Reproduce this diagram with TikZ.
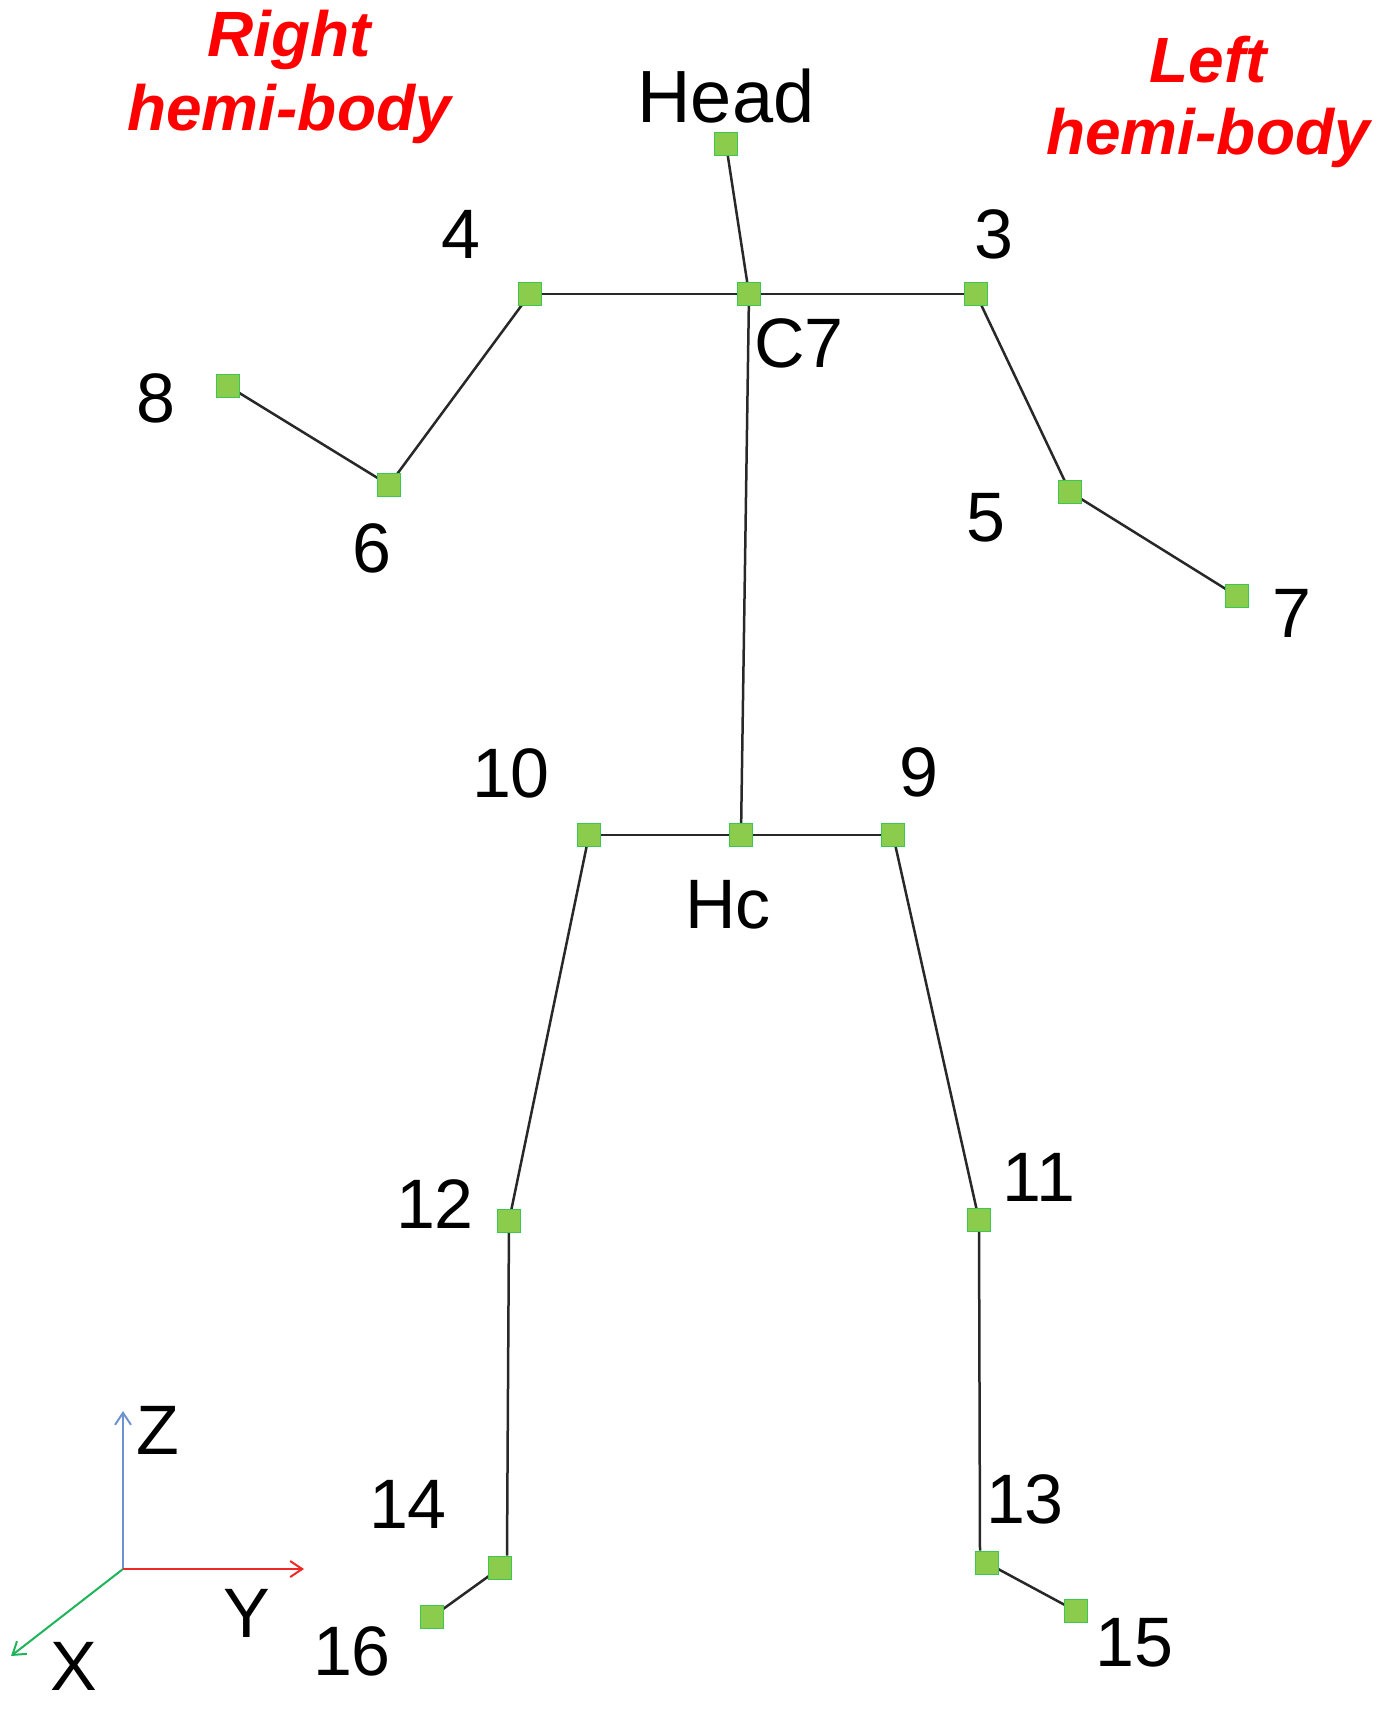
\documentclass[tikz,border=0pt]{standalone}
\usepackage{fontspec}
\setmainfont{Liberation Sans}
\usetikzlibrary{arrows.meta,backgrounds}
\definecolor{mfill}{RGB}{140,204,76}
\definecolor{mdraw}{RGB}{60,200,80}
\definecolor{axz}{RGB}{110,145,210}
\definecolor{axy}{RGB}{240,40,40}
\definecolor{axx}{RGB}{30,180,90}
\definecolor{hemired}{RGB}{255,0,0}
\definecolor{bonec}{RGB}{40,40,40}
\tikzset{
  joint/.style={draw=mdraw,fill=mfill,line width=1.8pt,minimum size=23pt,inner sep=0pt,shape=rectangle},
  bone/.style={line width=2.5pt,bonec},
  lbl/.style={inner sep=0pt,font=\fontsize{70}{80}\selectfont},
  hemi/.style={inner sep=0pt,align=center,text=hemired,font=\fontsize{64}{74}\selectfont\bfseries\itshape},
  axis/.style={line width=2pt,-{Straight Barb[length=12pt,width=16pt,line width=2pt]}}
}
\begin{document}
\begin{tikzpicture}[x=1pt,y=-1pt]
\useasboundingbox (0,0) rectangle (1393,1709);
% joints
\node[joint] (head) at (726,144) {};
\node[joint] (c7) at (749,294) {};
\node[joint] (j4) at (530,294) {};
\node[joint] (j3) at (976,294) {};
\node[joint] (j8) at (228,386) {};
\node[joint] (j6) at (389,485) {};
\node[joint] (j5) at (1070,492) {};
\node[joint] (j7) at (1237,596) {};
\node[joint] (hc) at (741,835) {};
\node[joint] (j10) at (589,835) {};
\node[joint] (j9) at (893,835) {};
\node[joint] (j12) at (509,1221) {};
\node[joint] (j11) at (979,1220) {};
\node[joint] (j14) at (500,1568) {};
\node[joint] (j16) at (432,1617) {};
\node[joint] (j13) at (987,1563) {};
\node[joint] (j15) at (1076,1611) {};
% bones
\begin{scope}[on background layer]
\fill[white] (0,0) rectangle (1393,1709);
\draw[bone] (head.center) -- (c7.center);
\draw[bone] (j4.center) -- (c7.center) -- (j3.center);
\draw[bone] (j4.center) -- (j6.center) -- (j8.center);
\draw[bone] (j3.center) -- (j5.center) -- (j7.center);
\draw[bone] (c7.center) -- (hc.center);
\draw[bone] (j10.center) -- (hc.center) -- (j9.center);
\draw[bone] (j10.center) -- (j12.center);
\draw[bone] (j12.center) -- ([xshift=7pt]j14.north);
\draw[bone] (j14.center) -- (j16.center);
\draw[bone] (j9.center) -- (j11.center);
\draw[bone] (j11.center) -- ([xshift=-7pt]j13.north);
\draw[bone] (j13.center) -- (j15.center);
\end{scope}
% labels
\node[lbl,font=\fontsize{74}{84}\selectfont] (lhead) at (726,96) {Head};
\node[lbl] (l4) at (461,234) {4};
\node[lbl] (l3) at (994,234) {3};
\node[lbl] (lc7) at (799,343) {C7};
\node[lbl] (l8) at (156,398) {8};
\node[lbl] (l6) at (372,548) {6};
\node[lbl] (l5) at (986,518) {5};
\node[lbl] (l7) at (1292,613) {7};
\node[lbl] (l10) at (511,773) {10};
\node[lbl] (l9) at (919,772) {9};
\node[lbl] (lhc) at (728,905) {Hc};
\node[lbl] (l12) at (435,1204) {12};
\node[lbl] (l11) at (1039,1177) {11};
\node[lbl] (l14) at (408,1504) {14};
\node[lbl] (l13) at (1025,1499) {13};
\node[lbl] (l16) at (352,1651) {16};
\node[lbl] (l15) at (1134,1643) {15};
% hemi-body labels
\node[hemi] (rh1) at (289,40) {Right};
\node[hemi] (rh2) at (289,114) {hemi-body};
\node[hemi] (lh1) at (1208,60) {Left};
\node[hemi] (lh2) at (1208,138) {hemi-body};
% axes
\coordinate (o) at (123,1569);
\coordinate (zt) at (123,1411);
\coordinate (yt) at (304,1569);
\coordinate (xt) at (11,1656);
\draw[axis,axz] (o) -- (zt);
\draw[axis,axy] (o) -- (yt);
\draw[axis,axx] (o) -- (xt);
\node[lbl] (lz) at (158,1430) {Z};
\node[lbl] (ly) at (247,1613) {Y};
\node[lbl] (lx) at (74,1666) {X};
\end{tikzpicture}
\end{document}
